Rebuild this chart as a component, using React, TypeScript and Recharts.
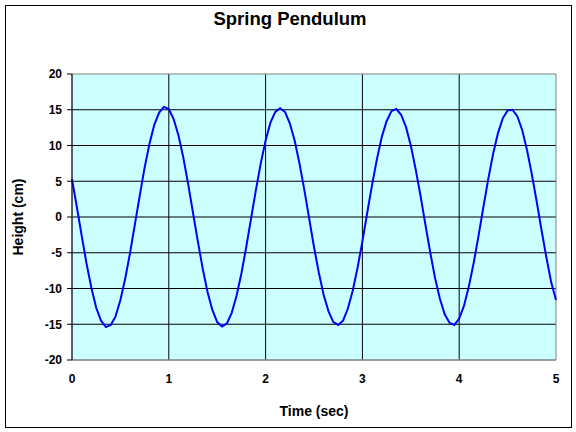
import { LineChart, Line, XAxis, YAxis, CartesianGrid, ReferenceArea } from "recharts";

// time in seconds, sampled every 0.05 s
const times = [
  0, 0.05, 0.1, 0.15, 0.2, 0.25, 0.3, 0.35, 0.4, 0.45,
  0.5, 0.55, 0.6, 0.65, 0.7, 0.75, 0.8, 0.85, 0.9, 0.95,
  1, 1.05, 1.1, 1.15, 1.2, 1.25, 1.3, 1.35, 1.4, 1.45,
  1.5, 1.55, 1.6, 1.65, 1.7, 1.75, 1.8, 1.85, 1.9, 1.95,
  2, 2.05, 2.1, 2.15, 2.2, 2.25, 2.3, 2.35, 2.4, 2.45,
  2.5, 2.55, 2.6, 2.65, 2.7, 2.75, 2.8, 2.85, 2.9, 2.95,
  3, 3.05, 3.1, 3.15, 3.2, 3.25, 3.3, 3.35, 3.4, 3.45,
  3.5, 3.55, 3.6, 3.65, 3.7, 3.75, 3.8, 3.85, 3.9, 3.95,
  4, 4.05, 4.1, 4.15, 4.2, 4.25, 4.3, 4.35, 4.4, 4.45,
  4.5, 4.55, 4.6, 4.65, 4.7, 4.75, 4.8, 4.85, 4.9, 4.95,
  5,
];

// height in cm
const heights = [
  5.3, 1.4, -2.6, -6.5, -9.9, -12.7, -14.5, -15.4, -15.1, -13.9,
  -11.6, -8.6, -5.0, -1.0, 3.0, 6.9, 10.2, 12.9, 14.6, 15.4,
  15.1, 13.7, 11.4, 8.3, 4.6, 0.6, -3.4, -7.2, -10.5, -13.0,
  -14.7, -15.3, -14.9, -13.4, -11.0, -7.9, -4.2, -0.2, 3.8, 7.5,
  10.7, 13.2, 14.7, 15.2, 14.7, 13.1, 10.7, 7.5, 3.8, -0.2,
  -4.2, -7.8, -10.9, -13.2, -14.7, -15.1, -14.5, -12.8, -10.3, -7.1,
  -3.4, 0.6, 4.5, 8.1, 11.2, 13.4, 14.8, 15.1, 14.3, 12.6,
  10.0, 6.7, 3.0, -1.0, -4.9, -8.5, -11.4, -13.6, -14.8, -15.1,
  -14.2, -12.4, -9.7, -6.4, -2.6, 1.4, 5.3, 8.8, 11.7, 13.8,
  14.9, 15.0, 14.1, 12.2, 9.4, 6.0, 2.2, -1.8, -5.6, -9.1,
  -11.6,
];

const xTicks = [0, 1, 2, 3, 4, 5];
const yTicks = [-20, -15, -10, -5, 0, 5, 10, 15, 20];

const data = times.map((t, i) => ({ t, h: heights[i] }));

const font = "'Liberation Sans', Arial, sans-serif";
const tickStyle = { fill: "#000", fontSize: 12, fontWeight: 700, fontFamily: font };

export default function App() {
  return (
    <div style={{ position: "absolute", left: 0, top: 0, width: 576, height: 432, background: "#fff", fontFamily: font }}>
      <div
        style={{
          position: "absolute",
          left: 5,
          top: 5,
          width: 567,
          height: 423,
          boxSizing: "border-box",
          border: "1px solid #000",
        }}
      />
      <div style={{ position: "absolute", top: 8, left: 2, width: 576, textAlign: "center", fontSize: 18.5, fontWeight: 700 }}>
        Spring Pendulum
      </div>
      <div style={{ position: "absolute", top: 403, left: 72, width: 484, textAlign: "center", fontSize: 14, fontWeight: 700 }}>
        Time (sec)
      </div>
      <div
        style={{
          position: "absolute",
          left: 18,
          top: 217,
          transform: "translate(-50%, -50%) rotate(-90deg)",
          whiteSpace: "nowrap",
          fontSize: 14,
          fontWeight: 700,
        }}
      >
        Height (cm)
      </div>
      <LineChart
        width={576}
        height={432}
        data={data}
        margin={{ top: 74, right: 20, bottom: 42, left: 32 }}
        style={{ position: "absolute", left: 0, top: 0 }}
      >
        {/* inner grid lines only; the plot edges get the gray frame */}
        <CartesianGrid
          stroke="#000"
          fill="#CCFFFF"
          fillOpacity={1}
          horizontalValues={yTicks.slice(1, -1)}
          verticalValues={xTicks.slice(1, -1)}
        />
        <ReferenceArea x1={0} x2={5} y1={-20} y2={20} fill="none" stroke="#808080" strokeWidth={1} />
        <XAxis
          type="number"
          dataKey="t"
          domain={[0, 5]}
          ticks={xTicks}
          height={30}
          tickLine={false}
          tickSize={8}
          tickMargin={6}
          axisLine={{ stroke: "#808080" }}
          tick={tickStyle}
          interval={0}
        />
        <YAxis
          type="number"
          domain={[-20, 20]}
          ticks={yTicks}
          width={40}
          tickSize={5}
          tickMargin={5}
          axisLine={{ stroke: "#000" }}
          tickLine={{ stroke: "#000" }}
          tick={tickStyle}
          interval={0}
        />
        <Line
          type="linear"
          dataKey="h"
          stroke="#0000FF"
          strokeWidth={2}
          dot={false}
          isAnimationActive={false}
        />
      </LineChart>
    </div>
  );
}
